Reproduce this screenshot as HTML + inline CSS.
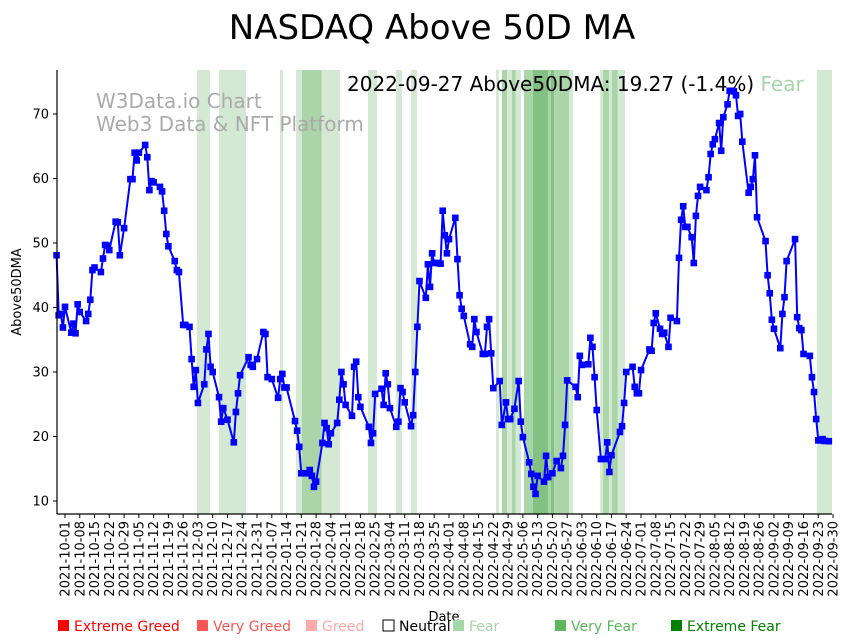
<!DOCTYPE html>
<html><head><meta charset="utf-8"><style>
body{margin:0;background:#fff;}
svg{display:block;font-family:"DejaVu Sans","Liberation Sans",sans-serif;}
</style></head><body>
<svg id="chart" width="852" height="642" viewBox="0 0 852 642">
<text x="432" y="39" font-size="34" text-anchor="middle">NASDAQ Above 50D MA</text>
<g id="bands"></g>
<text x="96" y="108" font-size="20" fill="#aaaaaa">W3Data.io Chart</text>
<text x="96" y="131" font-size="20" fill="#aaaaaa">Web3 Data &amp; NFT Platform</text>
<text x="347" y="91" font-size="20">2022-09-27 Above50DMA: 19.27 (-1.4%) <tspan fill="#a5d6a7">Fear</tspan></text>
<g id="series"></g>
<g id="axes"></g>
<text transform="translate(21,292) rotate(-90)" font-size="13" text-anchor="middle">Above50DMA</text>
<text x="444" y="621" font-size="13" text-anchor="middle">Date</text>
<g id="legend"></g>
</svg>
<script>
const values=[48.1,38.8,39,36.9,40.1,36.1,37.5,36,40.5,39.3,37.9,39,41.2,45.8,46.2,45.5,47.6,49.7,49.6,48.9,53.3,53.2,48.1,52.3,59.9,59.9,64,62.8,64,65.2,63.3,58.2,59.6,59.4,58.7,58,55,51.4,49.5,47.2,45.8,45.5,37.3,37.3,37,32,27.7,30.3,25.2,28.1,33.5,35.9,30.8,30,26.1,22.3,24.4,22.6,19.1,23.8,26.7,29.5,32.3,31.1,30.8,32,36.2,35.9,29.2,28.9,26,28.9,29.7,27.6,27.6,22.4,20.9,18.4,14.3,14.3,14.8,13.9,12.2,13,19,22.1,21.3,18.8,20.5,22.1,25.7,30,28.1,24.9,23.2,30.8,31.6,26.1,24.6,21.5,19,20.5,26.6,27.4,24.9,29.8,28.1,24.4,21.5,22.3,27.5,26.9,25.3,21.6,23.3,30,37,44.1,41.5,46.7,43.2,48.4,46.9,46.9,46.8,55,51.2,48.4,50.6,53.9,47.5,41.9,39.8,38.7,34.3,33.9,38.2,36.2,32.8,32.8,37,38.2,32.9,27.5,28.6,21.8,25.3,22.7,22.7,24.3,28.6,22.3,19.9,16,14.2,12.2,11.1,13.9,13,17,13.7,14.3,16.2,15.1,17,21.8,28.7,27.7,26.1,32.5,31.1,31.2,35.3,33.9,29.2,24.1,16.5,16.5,19.1,14.5,17.1,20.7,21.6,25.2,30,30.8,27.7,26.7,26.7,30.3,33.5,33.3,37.6,39.1,36.7,35.9,36.1,33.9,38.4,37.9,47.7,53.6,55.7,52.5,52.5,50.9,46.9,54.2,57.3,58.7,58.2,60.2,63.8,65.3,66.1,68.6,64.3,69.5,71.5,73.6,73.6,73.5,72.9,69.7,70,65.7,57.8,58.7,59.9,63.6,54,50.3,45,42.2,38.1,36.7,33.7,39,41.6,47.2,50.6,38.5,36.8,36.5,32.8,32.5,29.2,26.9,22.7,19.4,19.4,19.6,19.3,19.27];
const daysSinceOct1=[-4,-3,-2,-1,0,3,4,5,6,7,10,11,12,13,14,17,18,19,20,21,24,25,26,28,31,32,33,34,35,38,39,40,41,42,45,46,47,48,49,52,53,54,56,57,59,60,61,62,63,66,67,68,69,70,73,74,75,77,80,81,82,83,87,88,89,91,94,95,96,98,101,102,103,104,105,109,110,111,112,114,116,117,118,119,122,123,124,125,126,129,130,131,132,133,136,137,138,139,140,144,145,146,147,150,151,152,153,154,157,158,159,160,161,164,165,166,167,168,171,172,173,174,175,177,178,179,180,181,182,185,186,187,188,189,192,193,194,195,198,199,200,201,202,203,206,207,209,210,211,213,215,216,217,220,221,222,223,224,227,228,229,231,233,235,236,237,238,242,243,244,245,248,249,250,251,252,254,256,257,258,259,263,264,265,266,269,270,271,272,273,277,278,279,280,282,283,284,286,287,290,291,292,293,294,295,297,298,299,300,301,304,305,306,307,308,310,311,312,314,315,316,317,318,319,320,321,324,325,326,327,328,332,333,334,335,336,339,340,341,342,346,347,348,349,350,353,354,355,356,357,358,359,360,362];
const bandStart=[62.5,73,101.9,109.5,112.3,121.7,143.6,156.9,164,204.3,207.1,209.5,211.8,213.6,217.5,221.8,228.9,230.3,231.8,238.9,253.6,255,257.8,259.2,262,356.4];
const bandEnd=[68.7,85.8,103.3,112.3,121.7,130.3,147.9,159.7,166.8,205.7,209.5,211.8,213.6,216.1,221.8,228.9,230.3,231.8,238.9,240.8,255,257.8,259.2,262,265.4,363.5];
const bandLevel=[1,1,1,1,2,1,1,1,1,1,2,1,2,1,2,3,2,3,2,1,1,2,1,2,1,1];
const yTicks=[10,20,30,40,50,60,70];
const legendLabels=["Extreme Greed","Very Greed","Greed","Neutral","Fear","Very Fear","Extreme Fear"];

const NS="http://www.w3.org/2000/svg";
const L=57,R=832,T=70,B=514;
const xs=d=>65+d*2.11;
const ys=v=>501-(v-10)*6.45;
function mk(tag,attrs,parent){const e=document.createElementNS(NS,tag);for(const k in attrs)e.setAttribute(k,attrs[k]);parent.appendChild(e);return e;}
const bandColors=["","#d4e9d4","#a9d5a9","#82c182"];
const bg=document.getElementById('bands');
for(let i=0;i<bandStart.length;i++){
  const r=mk('rect',{x:xs(bandStart[i]),y:T,width:Math.max(0,xs(bandEnd[i])-xs(bandStart[i])),height:B-T,fill:bandColors[bandLevel[i]]},bg);
  
  
}
const sg=document.getElementById('series');
const pts=values.map((v,i)=>xs(daysSinceOct1[i]).toFixed(1)+','+ys(v).toFixed(1)).join(' ');
const line=mk('polyline',{points:pts,fill:'none',stroke:'#0000ff','stroke-width':2},sg);


values.forEach((v,i)=>{
  const m=mk('rect',{x:xs(daysSinceOct1[i])-3.3,y:ys(v)-3.3,width:6.6,height:6.6,fill:'#0000ff'},sg);
  
  
});
const ax=document.getElementById('axes');
const ls=mk('line',{x1:L,y1:T,x2:L,y2:B,stroke:'#000','stroke-width':1.2},ax);


const bs=mk('line',{x1:L,y1:B,x2:R,y2:B,stroke:'#000','stroke-width':1.2},ax);


yTicks.forEach(t=>{
  const y=ys(t);
  mk('line',{x1:L-4,y1:y,x2:L,y2:y,stroke:'#000'},ax);
  const tx=mk('text',{x:L-8,y:y+4.5,'font-size':13,'text-anchor':'end'},ax);
  tx.textContent=t;
  
  
});
const base=Date.UTC(2021,9,1);
for(let d=0;d<=364;d+=7){
  const x=xs(d);
  mk('line',{x1:x,y1:B,x2:x,y2:B+4,stroke:'#000'},ax);
  const s=new Date(base+d*86400000).toISOString().slice(0,10);
  const tx=mk('text',{transform:`translate(${x+4.5},${B+7}) rotate(-90)`,'font-size':13,'text-anchor':'end'},ax);
  tx.textContent=s;
  
  
}
const lg=document.getElementById('legend');
const lx=[57,196,305,382,452,554,670];
const lc=["#ff0000","#ff5555","#ffaaaa","#ffffff","#a5d6a7","#5cb85c","#008000"];
const tc=["#ff0000","#ff5555","#ffaaaa","#000000","#a5d6a7","#5cb85c","#008000"];
legendLabels.forEach((lab,i)=>{
  const g=mk('g',{},lg);
  
  
  mk('rect',{x:lx[i]+1,y:620,width:11,height:11,fill:lc[i],stroke:i===3?'#000':'none','stroke-width':1},g);
  const t=mk('text',{x:lx[i]+17,y:631,'font-size':14,fill:tc[i]},g);
  t.textContent=lab;
});
</script>
</body></html>
